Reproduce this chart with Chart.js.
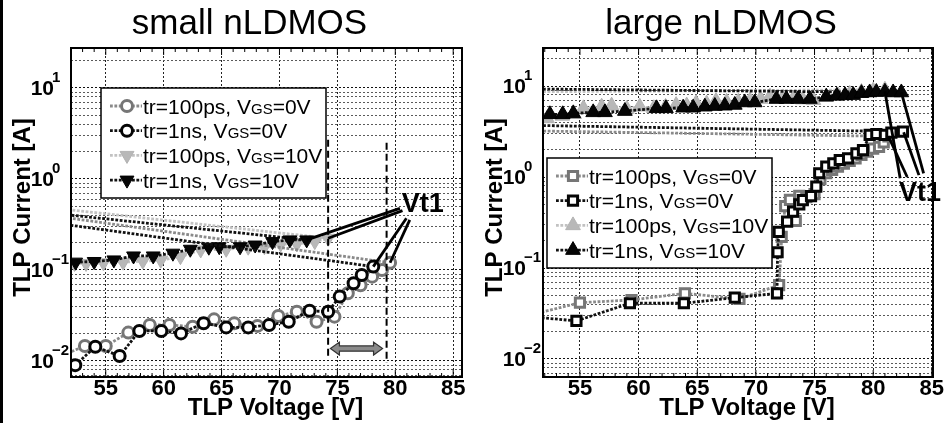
<!DOCTYPE html>
<html><head><meta charset="utf-8">
<script src="https://cdn.jsdelivr.net/npm/chart.js@4.4.1/dist/chart.umd.min.js"></script>
<style>
html,body{margin:0;padding:0;background:#fff;}
#wrap{position:relative;width:944px;height:423px;overflow:hidden;background:#fff;}
#c1{position:absolute;left:0;top:0;}
#c2{position:absolute;left:472px;top:0;}
#edge{position:absolute;left:0;top:0;width:3px;height:423px;background:#000;}
</style></head><body>
<div id="wrap"><canvas id="c1" width="471" height="423"></canvas><canvas id="c2" width="472" height="423"></canvas><div id="edge"></div></div>
<script>
// ---------------- DATA ----------------
const xTickValues = [55, 60, 65, 70, 75, 80, 85];
const yDecades = [0.01, 0.1, 1, 10];
const panelTitles = ['small nLDMOS', 'large nLDMOS'];
const xAxisTitle = 'TLP Voltage [V]';
const yAxisTitle = 'TLP Current [A]';
const smallLabels = ['tr=100ps, VGS=0V', 'tr=1ns, VGS=0V', 'tr=100ps, VGS=10V', 'tr=1ns, VGS=10V'];
const largeLabels = ['tr=100ps, VGS=0V', 'tr=1ns, VGS=0V', 'tr=100ps, VGS=10V', 'tr=1ns, VGS=10V'];

// small nLDMOS  [V, A]  (last point = snapback return line)
const smallCirc100ps = [[51,0.0112],[53.2,0.0146],[55.0,0.0146],[56.95,0.0205],[58.8,0.0249],[60.5,0.0249],[62.5,0.0238],[64.35,0.0287],[66.1,0.026],[68.1,0.0243],[69.9,0.0313],[71.5,0.0348],[73.2,0.027],[74.75,0.0307],[75.9,0.0555],[77.0,0.068],[78.0,0.0845],[78.85,0.1],[79.55,0.12],[52,0.37]];
const smallCirc1ns = [[52.37,0.009],[54.1,0.01436],[56.2,0.01135],[57.9,0.0214],[59.8,0.0214],[61.5,0.0201],[63.45,0.026],[65.4,0.0234],[67.3,0.0234],[69.1,0.0249],[70.8,0.027],[72.6,0.0357],[74.2,0.0348],[75.2,0.051],[76.4,0.0714],[77.1,0.088],[78.1,0.109],[52,0.31]];
const smallTri100ps = [[52.3,0.118],[53.3,0.118],[54.8,0.12],[56.5,0.122],[58.2,0.125],[59.75,0.128],[61.45,0.14],[63.2,0.166],[65.4,0.169],[67.3,0.178],[68.7,0.18],[70.1,0.193],[71.5,0.193],[73.05,0.205],[74.2,0.223],[52,0.457]];
const smallTri1ns = [[52.4,0.122],[54.0,0.124],[55.7,0.129],[57.4,0.1426],[59.1,0.1426],[60.8,0.153],[62.3,0.169],[63.9,0.178],[64.8,0.18],[66.6,0.18],[67.9,0.188],[69.4,0.205],[70.9,0.214],[72.35,0.214],[52,0.40]];
const smallDashed = [[74.2,0.0103,2.7],[79.25,0.0095,2.5]];      // [V, Abottom, Atop]
const smallArrow = [74.4, 78.9, 0.0137];
const smallVt1At = [82.37, 0.518];
const smallVt1Leaders = [[80.4,0.476,72.35,0.214],[80.62,0.449,74.2,0.223],[80.96,0.37,78.1,0.109],[81.25,0.355,79.55,0.12]];

// large nLDMOS
const largeSq100ps = [[51,0.031],[55.0,0.0416],[59.4,0.0445],[63.95,0.0527],[68.6,0.0457],[71.98,0.065],[72.2,0.22],[72.5,0.48],[72.9,0.56],[73.4,0.33],[73.7,0.62],[74.3,0.6],[75.0,0.65],[75.5,0.95],[76.0,1.1],[76.5,1.2],[77.0,1.3],[77.5,1.4],[78.0,1.5],[78.5,1.6],[79.0,1.75],[79.5,1.9],[80.0,2.05],[80.5,2.15],[80.9,2.4],[81.3,2.8],[51.85,3.2]];
const largeSq1ns = [[51,0.029],[54.7,0.0262],[59.26,0.041],[63.86,0.041],[68.2,0.0472],[71.8,0.0527],[71.85,0.149],[71.95,0.25],[72.66,0.323],[73.17,0.417],[73.7,0.5],[74.0,0.558],[74.7,0.618],[75.15,0.784],[75.4,1.1],[76.0,1.3],[76.6,1.41],[77.15,1.54],[77.86,1.6],[78.57,1.82],[79.13,1.98],[79.7,2.9],[80.27,2.97],[81.0,2.9],[81.55,3.07],[82.54,3.15],[51.85,3.68]];
const largeTri100ps = [[52.2,4.4],[53.5,4.7],[54.5,4.9],[55.3,5.69],[56.85,5.93],[57.7,6.08],[59.0,5.6],[60.1,5.93],[61.3,5.7],[62.3,5.9],[63.2,6.17],[64.1,6.1],[64.9,6.46],[65.8,6.4],[66.6,6.84],[67.5,6.7],[68.5,6.7],[69.5,6.9],[70.4,7.2],[71.2,7.63],[72.3,7.5],[73.2,7.3],[74.0,7.1],[74.9,7.0],[76.0,7.6],[77.0,7.9],[78.0,8.2],[79.0,8.6],[80.0,8.9],[81.0,9.1],[51.85,8.66]];
const largeTri1ns = [[52.44,4.89],[53.53,4.89],[54.43,5.01],[56.13,5.14],[57.13,5.14],[58.83,5.31],[61.53,5.69],[62.33,5.69],[63.8,5.78],[64.65,5.78],[65.65,5.93],[66.5,6.03],[67.35,6.08],[68.2,6.2],[69.05,6.6],[69.9,6.6],[71.75,7.2],[72.6,7.2],[73.6,7.2],[74.6,7.2],[76.0,7.63],[76.9,7.8],[77.6,7.9],[78.3,7.95],[79.0,8.35],[79.7,8.5],[80.27,8.6],[81.0,8.65],[81.7,8.5],[82.4,8.5],[51.85,9.27]];
const largeVt1At = [84.0, 0.66];
const largeVt1Leaders = [[81.0,8.7,82.3,0.97],[81.3,2.8,82.9,1.0],[82.4,8.5,84.3,1.1],[82.6,3.1,83.9,1.05]];

// ---------------- STYLE / RENDER ----------------
const FONT = '"Liberation Sans", Arial, Helvetica, sans-serif';
Chart.defaults.font.family = FONT;

const STY = {
  greyCircle:  {ps:'circle',   rot:0,   r:5.5, bw:3,   pc:'#767676', pf:'#ffffff', lc:'#8a8a8a', order:1},
  blackCircle: {ps:'circle',   rot:0,   r:5.5, bw:3,   pc:'#050505', pf:'#ffffff', lc:'#111111', order:0},
  lgreyTriDn:  {ps:'triangle', rot:180, r:8,   bw:1,   pc:'#b3b3b3', pf:'#b8b8b8', lc:'#c2c2c2', order:1},
  blackTriDn:  {ps:'triangle', rot:180, r:8,   bw:1,   pc:'#000000', pf:'#050505', lc:'#111111', order:0},
  greySquare:  {ps:'rect',     rot:0,   r:6.5, bw:3,   pc:'#767676', pf:'#ffffff', lc:'#8a8a8a', order:1},
  blackSquare: {ps:'rect',     rot:0,   r:6.5, bw:3,   pc:'#050505', pf:'#ffffff', lc:'#111111', order:0},
  lgreyTriUp:  {ps:'triangle', rot:0,   r:8.5, bw:1,   pc:'#b3b3b3', pf:'#b8b8b8', lc:'#c2c2c2', order:1},
  blackTriUp:  {ps:'triangle', rot:0,   r:8.5, bw:1,   pc:'#000000', pf:'#050505', lc:'#111111', order:0}
};

function buildDatasets(list) {
  return list.map(d => {
    const s = STY[d.kind];
    return {
      label: d.label,
      data: d.data.map(p => ({x: p[0], y: p[1]})),
      showLine: true, borderColor: s.lc, borderWidth: 2.8, borderDash: [2.8, 1.6],
      pointStyle: s.ps, pointRotation: s.rot,
      pointRadius: c => (c.dataIndex === d.data.length - 1 ? 0 : s.r),
      pointHoverRadius: 0,
      pointBorderWidth: s.bw, pointBorderColor: s.pc, pointBackgroundColor: s.pf,
      order: s.order
    };
  });
}

function drawMarker(ctx, s, x, y) {
  ctx.save();
  ctx.fillStyle = s.pf; ctx.strokeStyle = s.pc; ctx.lineWidth = s.bw;
  ctx.beginPath();
  let a = s.rot * Math.PI / 180;
  if (s.ps === 'circle') ctx.arc(x, y, s.r, 0, Math.PI * 2);
  else if (s.ps === 'triangle') {
    ctx.moveTo(x + Math.sin(a) * s.r, y - Math.cos(a) * s.r); a += 2 * Math.PI / 3;
    ctx.lineTo(x + Math.sin(a) * s.r, y - Math.cos(a) * s.r); a += 2 * Math.PI / 3;
    ctx.lineTo(x + Math.sin(a) * s.r, y - Math.cos(a) * s.r); ctx.closePath();
  } else { const h = Math.SQRT1_2 * s.r; ctx.rect(x - h, y - h, 2 * h, 2 * h); }
  ctx.fill(); if (s.bw > 0) ctx.stroke();
  ctx.restore();
}

function drawLabel(ctx, text, x, y) {
  const i = text.indexOf('GS');
  const parts = i >= 0 ? [[text.slice(0, i), 21], ['GS', 15], [text.slice(i + 2), 21]] : [[text, 21]];
  ctx.textAlign = 'left'; ctx.textBaseline = 'alphabetic'; ctx.fillStyle = '#000';
  parts.forEach(p => { ctx.font = p[1] + 'px ' + FONT; ctx.fillText(p[0], x, y); x += ctx.measureText(p[0]).width; });
}

function drawArrow(ctx, x1, x2, y) {
  const hl = 9, hh = 6.5, sh = 2.6;
  ctx.beginPath();
  ctx.moveTo(x1, y);
  ctx.lineTo(x1 + hl, y - hh); ctx.lineTo(x1 + hl, y - sh); ctx.lineTo(x2 - hl, y - sh); ctx.lineTo(x2 - hl, y - hh);
  ctx.lineTo(x2, y); ctx.lineTo(x2 - hl, y + hh); ctx.lineTo(x2 - hl, y + sh); ctx.lineTo(x1 + hl, y + sh); ctx.lineTo(x1 + hl, y + hh);
  ctx.closePath();
  ctx.fillStyle = '#8a8a8a'; ctx.fill(); ctx.lineWidth = 1.2; ctx.strokeStyle = '#333'; ctx.stroke();
}

function makeDecor(P) {
  return {
    id: 'decor_' + P.canvas,
    afterDatasetsDraw(chart) {
      const ctx = chart.ctx, xs = chart.scales.x, ys = chart.scales.y, A = chart.chartArea;
      const X = v => xs.getPixelForValue(v), Y = v => ys.getPixelForValue(v);
      ctx.save();
      ctx.strokeStyle = '#000';
      (P.dashed || []).forEach(d => {
        ctx.beginPath(); ctx.setLineDash([7, 4]); ctx.lineWidth = 2;
        ctx.moveTo(X(d[0]), Y(d[2])); ctx.lineTo(X(d[0]), Y(d[1])); ctx.stroke();
      });
      ctx.setLineDash([]);
      if (P.arrow) drawArrow(ctx, X(P.arrow[0]), X(P.arrow[1]), Y(P.arrow[2]));
      ctx.lineWidth = 2.8; ctx.strokeStyle = '#000';
      P.leaders.forEach(l => { ctx.beginPath(); ctx.moveTo(X(l[0]), Y(l[1])); ctx.lineTo(X(l[2]), Y(l[3])); ctx.stroke(); });
      ctx.font = 'bold 27px ' + FONT; ctx.textAlign = 'center'; ctx.textBaseline = 'middle'; ctx.fillStyle = '#000';
      ctx.fillText('Vt1', X(P.vt1At[0]), Y(P.vt1At[1]));
      // frame + inner ticks
      ctx.lineWidth = 2; ctx.strokeStyle = '#000';
      ctx.strokeRect(A.left, A.top, A.right - A.left, A.bottom - A.top);
      ctx.lineWidth = 1;
      for (let v = Math.ceil(xs.min); v <= Math.floor(xs.max); v++) {
        const px = X(v), len = v % 5 === 0 ? 7 : 4;
        ctx.beginPath(); ctx.moveTo(px, A.top); ctx.lineTo(px, A.top + len);
        ctx.moveTo(px, A.bottom); ctx.lineTo(px, A.bottom - len); ctx.stroke();
      }
      // legend
      const bx = A.left + P.legendAt[0], by = A.top + P.legendAt[1], bw = 225, bh = 110;
      ctx.fillStyle = '#fff'; ctx.fillRect(bx, by, bw, bh);
      ctx.lineWidth = 1.5; ctx.strokeStyle = '#000'; ctx.strokeRect(bx, by, bw, bh);
      P.items.forEach((it, i) => {
        const s = STY[it.kind], ry = by + 18 + i * 24.7;
        ctx.save();
        ctx.strokeStyle = s.lc; ctx.lineWidth = 2.8; ctx.setLineDash([2.8, 1.6]);
        ctx.beginPath(); ctx.moveTo(bx + 9, ry); ctx.lineTo(bx + 41, ry); ctx.stroke();
        ctx.restore();
        drawMarker(ctx, s, bx + 26, ry);
        drawLabel(ctx, it.label, bx + 42, ry + 7.5);
      });
      ctx.restore();
    },
    afterDraw(chart) {
      const ctx = chart.ctx, ys = chart.scales.y, A = chart.chartArea;
      ctx.save();
      ctx.fillStyle = '#000';
      yDecades.forEach(v => {
        const y = ys.getPixelForValue(v), e = Math.round(Math.log10(v));
        ctx.font = 'bold 21px ' + FONT; ctx.textAlign = 'right'; ctx.textBaseline = 'middle';
        ctx.fillText('10', A.left - 17, y + 1);
        ctx.font = 'bold 15px ' + FONT; ctx.textAlign = 'left'; ctx.textBaseline = 'alphabetic';
        ctx.fillText(e < 0 ? '\u2212' + (-e) : String(e), A.left - 19, y - 6);
      });
      const cx = (A.left + A.right) / 2, cy = (A.top + A.bottom) / 2;
      ctx.font = '35px ' + FONT; ctx.textAlign = 'center'; ctx.textBaseline = 'alphabetic';
      ctx.fillText(P.title, cx - 17, 34);
      ctx.font = 'bold 24px ' + FONT; ctx.textBaseline = 'middle';
      ctx.fillText(xAxisTitle, cx + 9, 408);
      ctx.save(); ctx.translate(23, cy - 5); ctx.rotate(-Math.PI / 2);
      ctx.fillText(yAxisTitle, 0, 0); ctx.restore();
      ctx.restore();
    }
  };
}

function makePanel(P) {
  const gridColor = c => {
    const v = c.tick && c.tick.value; if (!v) return '#555';
    const l = Math.log10(v); return Math.abs(l - Math.round(l)) < 1e-6 ? '#111' : '#5a5a5a';
  };
  new Chart(document.getElementById(P.canvas), {
    type: 'scatter',
    data: {datasets: buildDatasets(P.items)},
    options: {
      responsive: false, animation: false, devicePixelRatio: 1, events: [],
      layout: {padding: {left: 0, right: P.padRight, top: 48, bottom: 0}},
      plugins: {legend: {display: false}, tooltip: {enabled: false}, title: {display: false}},
      scales: {
        x: {type: 'linear', min: P.xMin, max: P.xMax,
            afterBuildTicks: s => { s.ticks = xTickValues.map(v => ({value: v})); },
            afterFit: s => { s.height = 46; s.paddingLeft = 0; s.paddingRight = 0; },
            ticks: {font: {size: 22, weight: 'bold'}, color: '#000', padding: -1, maxRotation: 0, autoSkip: false},
            grid: {color: '#222', lineWidth: 1, drawTicks: false},
            border: {display: false, dash: [2, 2]}},
        y: {type: 'logarithmic', min: P.yMin, max: P.yMax,
            afterBuildTicks: s => {
              const t = [];
              for (let k = -3; k <= 2; k++) for (let m = 1; m <= 9; m++) {
                const v = m * Math.pow(10, k); if (v >= P.yMin && v <= P.yMax) t.push({value: v});
              }
              s.ticks = t;
            },
            afterFit: s => { s.width = 71; },
            ticks: {display: false},
            grid: {color: gridColor, lineWidth: 1, drawTicks: false},
            border: {display: false, dash: [2, 2]}}
      }
    },
    plugins: [makeDecor(P)]
  });
}

makePanel({
  canvas: 'c1', title: panelTitles[0], xMin: 52, xMax: 85.76, yMin: 0.00667, yMax: 27.5, padRight: 1,
  legendAt: [30, 40],
  items: [
    {label: smallLabels[0], data: smallCirc100ps, kind: 'greyCircle'},
    {label: smallLabels[1], data: smallCirc1ns, kind: 'blackCircle'},
    {label: smallLabels[2], data: smallTri100ps, kind: 'lgreyTriDn'},
    {label: smallLabels[3], data: smallTri1ns, kind: 'blackTriDn'}
  ],
  dashed: smallDashed, arrow: smallArrow, leaders: smallVt1Leaders, vt1At: smallVt1At
});
makePanel({
  canvas: 'c2', title: panelTitles[1], xMin: 51.85, xMax: 85.1, yMin: 0.00634, yMax: 26.2, padRight: 11,
  legendAt: [4, 110],
  items: [
    {label: largeLabels[0], data: largeSq100ps, kind: 'greySquare'},
    {label: largeLabels[1], data: largeSq1ns, kind: 'blackSquare'},
    {label: largeLabels[2], data: largeTri100ps, kind: 'lgreyTriUp'},
    {label: largeLabels[3], data: largeTri1ns, kind: 'blackTriUp'}
  ],
  leaders: largeVt1Leaders, vt1At: largeVt1At
});
</script>
</body></html>
